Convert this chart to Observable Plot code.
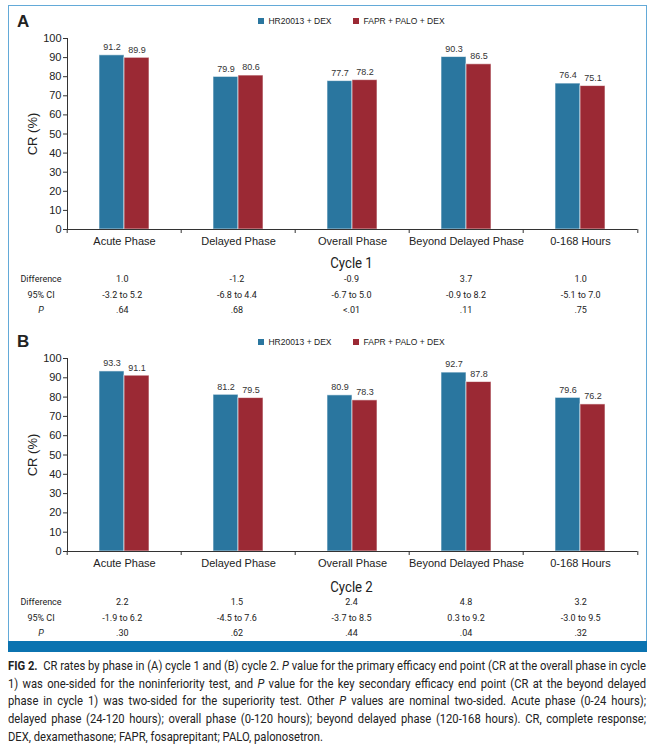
<!DOCTYPE html>
<html>
<head>
<meta charset="utf-8">
<script src="https://cdn.jsdelivr.net/npm/d3@7"></script>
<script src="https://cdn.jsdelivr.net/npm/@observablehq/plot@0.6"></script>
<style>
  body { margin: 0; background: #fff; color: #222; font-family: "Liberation Sans", Arial, sans-serif; }
  #page { position: relative; width: 658px; height: 744px; overflow: hidden; }
  #frame { position: absolute; left: 8px; top: 5px; width: 639px; height: 640px; border: 1px solid #63aad8; border-bottom: none; box-sizing: border-box; }
  #band { position: absolute; left: 8px; top: 641px; width: 639px; height: 11px; background: #0b73b0; }
  .abs { position: absolute; white-space: nowrap; }
  .letter { font-weight: bold; font-size: 17px; line-height: 20px; }
  .legend { left: 65px; width: 573px; text-align: center; font-size: 8.5px; line-height: 12px; }
  .legend .sw { display: inline-block; width: 6px; height: 6px; margin-right: 4px; vertical-align: 0px; }
  .legend .item { margin: 0 11px; }
  .cycle { left: 65px; width: 573px; text-align: center; font-family: Roboto, sans-serif; font-size: 15px; line-height: 18px; transform: scaleX(0.88); }
  table.stats { position: absolute; left: 17px; border-collapse: collapse; table-layout: fixed; font-family: Roboto, sans-serif; font-size: 9px; color: #222; }
  table.stats td { padding: 0; height: 15.5px; line-height: 15.5px; text-align: center; white-space: nowrap; }
  .svgbox { position: absolute; left: 0; }
  .svgbox g[aria-label="y-axis label"] text { font-size: 13px; }
  #caption { position: absolute; left: 8px; top: 657px; font-family: Roboto, sans-serif; font-size: 13px; line-height: 17.7px; color: #222; transform-origin: 0 0; }
  #caption .ln { white-space: nowrap; text-align: justify; text-align-last: justify; }
  #caption .ln.last { text-align-last: left; }
</style>
</head>
<body>
<div id="page">
  <div id="frame"></div>
  <div id="band"></div>
</div>
<script>
// ---- data ----
const phases = ["Acute Phase", "Delayed Phase", "Overall Phase", "Beyond Delayed Phase", "0-168 Hours"];
const series = ["HR20013 + DEX", "FAPR + PALO + DEX"];
const seriesColors = ["#2a769f", "#9b2934"];
const yTicks = [0, 10, 20, 30, 40, 50, 60, 70, 80, 90, 100];

const cycle1HR   = [91.2, 79.9, 77.7, 90.3, 76.4];
const cycle1FAPR = [89.9, 80.6, 78.2, 86.5, 75.1];
const cycle2HR   = [93.3, 81.2, 80.9, 92.7, 79.6];
const cycle2FAPR = [91.1, 79.5, 78.3, 87.8, 76.2];

const rowLabels = ["Difference", "95% CI", "P"];
const cycle1Diff = ["1.0", "-1.2", "-0.9", "3.7", "1.0"];
const cycle1CI   = ["-3.2 to 5.2", "-6.8 to 4.4", "-6.7 to 5.0", "-0.9 to 8.2", "-5.1 to 7.0"];
const cycle1P    = [".64", ".68", "<.01", ".11", ".75"];
const cycle2Diff = ["2.2", "1.5", "2.4", "4.8", "3.2"];
const cycle2CI   = ["-1.9 to 6.2", "-4.5 to 7.6", "-3.7 to 8.5", "0.3 to 9.2", "-3.0 to 9.5"];
const cycle2P    = [".30", ".62", ".44", ".04", ".32"];

const captionLines = [
  "<b>FIG 2.</b>&nbsp; CR rates by phase in (A) cycle 1 and (B) cycle 2. <i>P</i> value for the primary efficacy end point (CR at the overall phase in cycle",
  "1) was one-sided for the noninferiority test, and <i>P</i> value for the key secondary efficacy end point (CR at the beyond delayed",
  "phase in cycle 1) was two-sided for the superiority test. Other <i>P</i> values are nominal two-sided. Acute phase (0-24 hours);",
  "delayed phase (24-120 hours); overall phase (0-120 hours); beyond delayed phase (120-168 hours). CR, complete response;",
  "DEX, dexamethasone; FAPR, fosaprepitant; PALO, palonosetron."
];

// ---- layout ----
const W = 658, ML = 65, MR = 20;
const bw = (W - ML - MR) / phases.length;
const page = document.getElementById("page");

function addDiv(cls, html, top, left) {
  const d = document.createElement("div");
  d.className = "abs " + cls;
  d.innerHTML = html;
  d.style.top = top + "px";
  if (left != null) d.style.left = left + "px";
  page.appendChild(d);
  return d;
}

function chart(hr, fapr, plotH) {
  const data = phases.flatMap((p, i) => [
    {phase: p, series: series[0], value: hr[i]},
    {phase: p, series: series[1], value: fapr[i]}
  ]);
  return Plot.plot({
    width: W, height: 8 + plotH + 22,
    marginTop: 8, marginBottom: 22, marginLeft: ML, marginRight: MR,
    style: {fontFamily: "Liberation Sans, Arial, sans-serif", fontSize: "11px", color: "#222", background: "transparent", overflow: "visible"},
    fx: {domain: phases, padding: 0, label: null},
    x: {domain: series, paddingInner: 0, paddingOuter: 1.25, axis: null},
    y: {domain: [0, 100], axis: null},
    color: {domain: series, range: seriesColors},
    marks: [
      Plot.barY(data, {fx: "phase", x: "series", y: "value", fill: "series", stroke: "#ffffff", strokeOpacity: 0.6, strokeWidth: 1}),
      Plot.text(data, {fx: "phase", x: "series", y: "value", text: d => d.value.toFixed(1), dy: -8, fontSize: 9, fill: "#333"}),
      Plot.ruleY([0], {stroke: "#333", strokeWidth: 1}),
      Plot.axisY({ticks: yTicks, tickSize: 4, tickPadding: 2, stroke: "#333", label: "CR (%)", labelAnchor: "center", labelOffset: 40, labelArrow: "none"}),
      Plot.frame({anchor: "left", facetAnchor: "left", stroke: "#333"}),
      Plot.axisFx({anchor: "bottom", tickSize: 0, tickPadding: 8, label: null}),
      Plot.axisFx({anchor: "bottom", tickSize: 4, tickFormat: () => "", dx: -bw / 2, label: null, stroke: "#333"}),
      Plot.axisFx({anchor: "bottom", ticks: [phases[phases.length - 1]], tickSize: 4, tickFormat: () => "", dx: bw / 2, label: null, stroke: "#333"})
    ]
  });
}

function legendHTML() {
  return series.map((s, i) =>
    `<span class="item"><span class="sw" style="background:${seriesColors[i]}"></span>${s}</span>`).join("");
}

function statsTable(top, diff, ci, p) {
  const t = document.createElement("table");
  t.className = "stats";
  t.style.top = top + "px";
  const cg = document.createElement("colgroup");
  cg.innerHTML = `<col style="width:48px">` + phases.map(() => `<col style="width:${bw}px">`).join("");
  t.appendChild(cg);
  const rows = [diff, ci, p];
  rows.forEach((vals, r) => {
    const tr = document.createElement("tr");
    const lab = r === 2 ? `<i>${rowLabels[r]}</i>` : rowLabels[r];
    tr.innerHTML = `<td>${lab}</td>` + vals.map(v => `<td>${v.replace("<", "&lt;")}</td>`).join("");
    t.appendChild(tr);
  });
  page.appendChild(t);
}

function panel(letter, hr, fapr, cycleLabel, stats, o) {
  addDiv("letter", letter, o.letterTop, 17);
  addDiv("legend", legendHTML(), o.legendTop);
  const box = document.createElement("div");
  box.className = "svgbox";
  box.style.top = o.svgTop + "px";
  box.appendChild(chart(hr, fapr, o.plotH));
  page.appendChild(box);
  addDiv("cycle", cycleLabel, o.cycleTop);
  statsTable(o.tableTop, ...stats);
}

panel("A", cycle1HR, cycle1FAPR, "Cycle 1", [cycle1Diff, cycle1CI, cycle1P],
  {letterTop: 12, legendTop: 15, svgTop: 30, plotH: 191, cycleTop: 254, tableTop: 272});
panel("B", cycle2HR, cycle2FAPR, "Cycle 2", [cycle2Diff, cycle2CI, cycle2P],
  {letterTop: 332, legendTop: 336, svgTop: 350, plotH: 193, cycleTop: 578, tableTop: 595});

// caption
const cap = document.createElement("div");
cap.id = "caption";
page.appendChild(cap);
const spans = captionLines.map((l, i) => {
  const d = document.createElement("div");
  d.className = "ln" + (i === captionLines.length - 1 ? " last" : "");
  d.innerHTML = `<span>${l}</span>`;
  cap.appendChild(d);
  return d;
});
const maxW = Math.max(...spans.slice(0, 4).map(d => d.firstChild.getBoundingClientRect().width));
const capW = 638;
const s = Math.min(1, capW / maxW);
cap.style.width = (capW / s) + "px";
cap.style.transform = `scaleX(${s})`;
</script>
</body>
</html>
